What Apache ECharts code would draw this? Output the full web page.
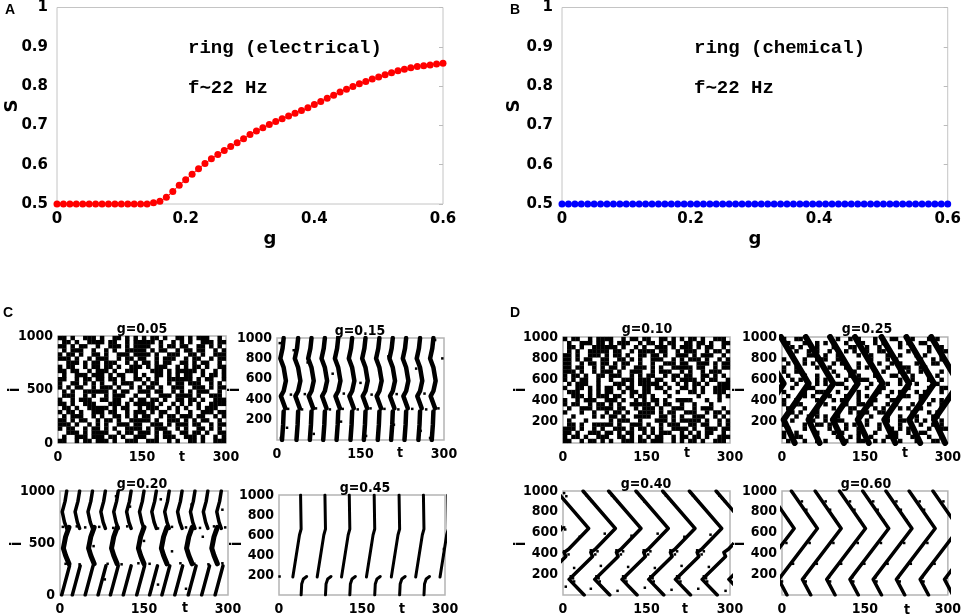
<!DOCTYPE html>
<html>
<head>
<meta charset="utf-8">
<script src="https://cdn.jsdelivr.net/npm/echarts@6/dist/echarts.min.js"></script>
<style>
html,body{margin:0;padding:0;background:#fff}
#main{width:964px;height:616px}
</style>
</head>
<body>
<div id="main"></div>
<script>
// ---- panel A / B : synchrony S against coupling g ----
var gVals = [0,0.01,0.02,0.03,0.04,0.05,0.06,0.07,0.08,0.09,0.1,0.11,0.12,0.13,0.14,0.15,0.16,0.17,0.18,0.19,
  0.2,0.21,0.22,0.23,0.24,0.25,0.26,0.27,0.28,0.29,0.3,0.31,0.32,0.33,0.34,0.35,0.36,0.37,0.38,0.39,
  0.4,0.41,0.42,0.43,0.44,0.45,0.46,0.47,0.48,0.49,0.5,0.51,0.52,0.53,0.54,0.55,0.56,0.57,0.58,0.59,0.6];
var sElectrical = [0.5,0.5,0.5,0.5,0.5,0.5,0.5,0.5,0.5,0.5,0.5,0.5,0.5,0.5,0.5,
  0.503,0.507,0.517,0.532,0.548,0.562,0.576,0.59,0.603,0.615,0.626,0.636,0.646,0.656,0.666,
  0.677,0.686,0.694,0.702,0.71,0.717,0.724,0.731,0.738,0.745,0.753,0.761,0.769,0.777,0.785,
  0.792,0.799,0.806,0.812,0.818,0.823,0.829,0.834,0.839,0.843,0.847,0.85,0.852,0.854,0.856,0.858];
var sChemical = [0.5,0.5,0.5,0.5,0.5,0.5,0.5,0.5,0.5,0.5,0.5,0.5,0.5,0.5,0.5,0.5,0.5,0.5,0.5,0.5,
  0.5,0.5,0.5,0.5,0.5,0.5,0.5,0.5,0.5,0.5,0.5,0.5,0.5,0.5,0.5,0.5,0.5,0.5,0.5,0.5,
  0.5,0.5,0.5,0.5,0.5,0.5,0.5,0.5,0.5,0.5,0.5,0.5,0.5,0.5,0.5,0.5,0.5,0.5,0.5,0.5,0.5];

// ---- raster plots: spike bands as [dt, i] profiles repeated at onset times ----
var g15Lower = [[-3,0],[-1,150],[0,280]];
var g15Upper = [[3,310],[-5,430],[0,480],[4,580],[0,710],[-6,800],[-2,900],[0,1000]];
var g15Onsets = [12,38,62,86,110,135,159,184,208,232,257,281];

var g20Upper = [[0,1000],[-3,900],[-8,800],[-4,700],[0,640]];
var g20UpperOnsets = [12,35,58,81,104,127,150,172,195,218,241,264,288];
var g20Middle = [[10,650],[4,560],[0,450],[4,380],[10,300]];
var g20MiddleOnsets = [6,51,92,140,181,226,271];
var g20Lower = [[0,0],[5,100],[10,200],[14,280]];
var g20LowerOnsets = [3,22,45,68,90,113,137,160,182,205,229,253,277];

var g45Stroke = [[-15,180],[-3,600],[0,660],[-1,1000]];
var g45Onsets = [40,84,128,173,218,262,306];
var g45Hook = [[0,0],[1,110],[4,160],[10,185]];
var g45HookOnsets = [40,84,128,173,218,262];

var g25Zig = [[-50,1000],[0,560],[-45,220],[-25,0]];
var g25Onsets = [3,48,93,137,182,230,275,320,365];

var g40Zig = [[-58,1000],[0,640],[-36,440],[-44,410],[-41,370],[-83,150],[-56,0]];
var g40Onsets = [-2,46,94,140,189,237,285,333,381];

var g60Zig = [[-47,1000],[0,640],[-70,150],[-55,0]];
var g60Onsets = [22,64,107,151,193,235,277,320,364];

// loose spikes [t, i]
var g15Dots = [[20,305],[45,300],[70,310],[95,300],[118,305],[145,300],[168,310],[193,305],[218,300],[243,305],[268,300],[290,310],
  [25,445],[50,450],[120,455],[170,445],[215,450],[265,455],[5,950],[30,880],[55,760],[100,650],[150,560],[200,820],
  [250,700],[297,800],[284,980],[18,120],[66,60],[115,180],[160,40],[210,150],[258,90],[275,20],[7,20]];
var g20Dots = [[5,655],[15,640],[30,660],[45,650],[70,655],[95,645],[120,660],[150,650],[175,640],[200,655],[225,650],[250,645],
  [275,660],[295,650],[10,300],[35,295],[60,305],[85,300],[110,295],[140,305],[160,300],[190,295],[215,305],[240,300],
  [265,295],[290,305],[100,950],[125,850],[180,920],[235,870],[290,820],[60,470],[150,520],[200,420],[255,560],[80,150],
  [175,100],[225,60]];
var g45Dots = [[1,185],[298,460],[297,400]];
var g40Dots = [[38,985],[42,960],[47,930],[52,900],[84,985],[88,955],[93,930],[98,900],[133,985],[137,960],[142,930],[146,900],
  [181,985],[185,955],[190,930],[195,900],[229,985],[233,960],[238,930],[243,900],[277,985],[281,955],[286,930],[291,900],
  [2,980],[6,950],[2,650],[4,630],[50,430],[58,390],[62,420],[96,430],[104,390],[108,420],[145,430],[153,390],[157,420],
  [193,430],[201,390],[205,420],[241,430],[249,390],[253,420],[2,420],[10,390],[14,180],[18,160],[20,130],[60,180],
  [64,160],[66,130],[108,180],[112,160],[114,130],[157,180],[161,160],[163,130],[205,180],[209,160],[211,130],[253,180],
  [257,160],[259,130],[30,560],[75,590],[123,570],[170,590],[218,560],[265,580],[20,260],[68,280],[117,270],[165,260],
  [213,280],[262,270],[5,80],[50,60],[98,40],[147,70],[195,50],[243,60],[292,40]];
var g60Dots = [[12,720],[8,500],[36,900],[44,820],[54,720],[50,500],[20,300],[0,130],
  [79,900],[87,820],[97,720],[93,500],[63,300],[41,170],[43,130],
  [123,900],[131,820],[141,720],[137,500],[107,300],[85,170],[87,130],
  [165,900],[173,820],[183,720],[179,500],[149,300],[127,170],[129,130],
  [207,900],[215,820],[225,720],[221,500],[191,300],[169,170],[171,130],
  [249,900],[257,820],[267,720],[263,500],[233,300],[211,170],[213,130],
  [292,900],[276,300],[254,170],[256,130],[298,170]];

// dense, irregular rasters as rows of cells (top row = neuron 1000)
var g05Cells = [
  "##.#..###. #..##.#.#. #.##.#..## .#.###..#.",
  ".##.#..### #.##..#.## ###.#..#.# .#..###.##",
  "##.#.##..# ..###.#.## ##..#.##.# #..##.#.#.",
  ".#.###..#. .#.#..#### #.#.##..#. ##.##..#.#",
  "#.##.#..## .#..###.## ##.#..###. .##.#..###",
  "###.#..#.# ##..#.##.# #..#.###.. #.##..#.##",
  "..###.#.## .###..#.#. ##.#.##..# #.#.##..#.",
  "#.##..#.## .##.#..### .#.###..#. #.##.#..##",
  "##.##..#.# ##.#..###. ..###.#.## ###.#..#.#",
  ".#..###.## #.#.##..#. #..##.#.#. ##..#.##.#",
  "##..#.##.# #.##.#..## .#.#..#### ##.#.##..#",
  "#..##.#.#. #..#.###.. #.##..#.## .###..#.#.",
  "#.#.##..#. ###.#..#.# .##.#..### ..###.#.##",
  ".#.#..#### ##.#.##..# ##.##..#.# .#.###..#.",
  ".###..#.#. .#.###..#. .#..###.## ##.#..###.",
  "#..#.###.. ##.##..#.# #.##.#..## .##.#..###",
  "##.#..###. ..###.#.## ###.#..#.# .#.#..####",
  ".##.#..### ##.#.##..# .###..#.#. #..#.###..",
  "#.##.#..## #.##..#.## #.#.##..#. .#..###.##",
  ".#.###..#. #..##.#.#. ##..#.##.# ##.##..#.#",
  "##.#.##..# .##.#..### ##.#..###. #.#.##..#.",
  "###.#..#.# .#..###.## ..###.#.## #.##..#.##",
  "#.##..#.## .#.#..#### .#.###..#. #..##.#.#.",
  "..###.#.## ##..#.##.# ##.#.##..# #.##.#..##",
  ".#..###.## #.##.#..## #..#.###.. ###.#..#.#",
  "##..#.##.# ##.#..###. .###..#.#. .##.#..###"
];
var g10Cells = [
  "#.##..#.## ##..#.##.# #..##.#.#. ##.#..###.",
  ".#..###.## .#.###..#. ##.#.##..# #.##.#..##",
  ".##.#..### ###.#..#.# ..###.#.## #.#.##..#.",
  ".#.#..#### #.##..#.## ##.##..#.# ##..#.##.#",
  "##.#..###. #.##.#..## .##.#..### .#.###..#.",
  "##.#.##..# #..##.#.#. .###..#.#. ###.#..#.#",
  "##..#.##.# #.#.##..#. .#..###.## ..###.#.##",
  "##.##..#.# .##.#..### .#.#..#### #.##..#.##",
  "###.#..#.# ##.#..###. .#.###..#. #..#.###..",
  "#.##.#..## .###..#.#. ##..#.##.# #..##.#.#.",
  "#.#.##..#. .#..###.## #.##..#.## ##.#.##..#",
  ".#.###..#. ..###.#.## ###.#..#.# .##.#..###",
  "#..##.#.#. ##.#.##..# #.##.#..## .#.#..####",
  ".###..#.#. ##..#.##.# #...#..#.. ##.#..###.",
  "..###.#.## #.##..#.## .#...#.... ..#....#.#",
  "#..#.###.. ###.#..#.# .##.#..### #...#..#..",
  "#.##..#.## .#.#..#### #.#.##..#. .#...#....",
  ".#..###.## ##.##..#.# ##.#..###. .#.###..#.",
  "#...#..#.. #.##.#..## ##.#.##..# ##..#.##.#",
  "..#....#.# .##.#..### #..##.#.#. .###..#.#.",
  ".#...#.... .#.###..#. ..###.#.## ###.#..#.#",
  ".##.#..### ##.#..###. #..#.###.. ##.##..#.#",
  "###.#..#.# ..###.#.## .#.#..#### .#..###.##",
  "##.#..###. ##.#.##..# .#.###..#. #.#.##..#.",
  "#.##.#..## #..##.#.#. #.##..#.## .##.#..###",
  "##..#.##.# .#..###.## .###..#.#. ##.#..###."
];
var g25Cells = [
  "#..##..... ...#..#.#. ..#...##.. .#...#.#..",
  ".#...#..#. #....#..## ..#.#...#. #..##.....",
  "..#.#...#. ..#...##.. #..#....#. .#...#..#.",
  "...#..#.#. .#...#.#.. #..##..... #....#..##",
  "..#...##.. #..#....#. .#...#..#. ..#.#...#.",
  "#....#..## #..##..... .#...#.#.. ...#..#.#.",
  ".#...#.#.. ..#.#...#. ...#..#.#. ..#...##..",
  "#..#....#. .#...#..#. #....#..## #..##.....",
  "#..##..... ..#...##.. ..#.#...#. #..#....#.",
  ".#...#..#. ...#..#.#. ..#...##.. .#...#.#..",
  "..#.#...#. #....#..## #..#....#. .#...#..#.",
  "...#..#.#. #..##..... .#...#..#. ..#...##..",
  "..#...##.. .#...#.#.. #..##..... #....#..##",
  "#....#..## #..#....#. ...#..#.#. ..#.#...#.",
  ".#...#.#.. .#...#..#. #....#..## #..##.....",
  "#..#....#. ..#.#...#. ..#...##.. ...#..#.#.",
  "#..##..... #....#..## .#...#.#.. .#...#..#.",
  ".#...#..#. ..#...##.. ..#.#...#. #..#....#.",
  "..#.#...#. ...#..#.#. #..##..... .#...#.#..",
  "...#..#.#. #..#....#. .#...#..#. ..#...##..",
  "..#...##.. #..##..... #....#..## ..#.#...#.",
  "#....#..## .#...#.#.. #..#....#. ...#..#.#.",
  ".#...#.#.. .#...#..#. ...#..#.#. #....#..##",
  "#..#....#. ..#.#...#. ..#...##.. #..##.....",
  "#..##..... ...#..#.#. .#...#.#.. .#...#..#.",
  ".#...#..#. #....#..## ..#.#...#. ..#...##.."
];

var sans = "'Liberation Sans',Arial,sans-serif";
var wide = "'DejaVu Sans',sans-serif";
var narrow = "'Liberation Sans Narrow','DejaVu Sans Condensed',sans-serif";
var mono = "'Liberation Mono','DejaVu Sans Mono',monospace";

var chart = echarts.init(document.getElementById('main'));
var grid = [], xAxis = [], yAxis = [], series = [], graphic = [];

function curvePanel(box, values, color) {
  var k = grid.length;
  grid.push({left: box[0], top: box[1], width: box[2], height: box[3], show: true, borderColor: '#c4c4c4', borderWidth: 1});
  xAxis.push({gridIndex: k, type: 'value', min: 0, max: 0.6, interval: 0.2,
    axisLine: {show: false}, axisTick: {show: false}, splitLine: {show: false},
    axisLabel: {color: '#000', fontFamily: wide, fontWeight: 'bold', fontSize: 15, margin: 8,
      formatter: function (v) { return v === 0 ? '0' : v.toFixed(1); }}});
  var xi = xAxis.length - 1;
  yAxis.push({gridIndex: k, type: 'value', min: 0.5, max: 1, interval: 0.1,
    axisLine: {show: false}, axisTick: {show: false}, splitLine: {show: false},
    axisLabel: {color: '#000', fontFamily: wide, fontWeight: 'bold', fontSize: 15, margin: 9,
      formatter: function (v) { return Math.abs(v - 1) < 1e-9 ? '1' : v.toFixed(1); }}});
  var yi = yAxis.length - 1;
  yAxis.push({gridIndex: k, type: 'value', position: 'right', min: 0.5, max: 1, interval: 0.1,
    axisLine: {show: false}, axisLabel: {show: false}, splitLine: {show: false},
    axisTick: {show: true, inside: true, length: 4, lineStyle: {color: '#bbb'}}});
  series.push({type: 'line', xAxisIndex: xi, yAxisIndex: yi,
    data: gVals.map(function (g, i) { return [g, values[i]]; }),
    symbol: 'circle', symbolSize: 7, itemStyle: {color: color, opacity: 1},
    lineStyle: {color: color, width: 1}, silent: true, animation: false});
}

function rasterPanel(box, yStep) {
  var k = grid.length;
  grid.push({left: box[0], top: box[1], width: box[2], height: box[3], show: true, borderColor: '#b4b4b4', borderWidth: 1.5});
  xAxis.push({gridIndex: k, type: 'value', min: 0, max: 300, interval: 150,
    axisLine: {show: false}, axisTick: {show: false}, splitLine: {show: false},
    axisLabel: {color: '#000', fontFamily: narrow, fontWeight: 'bold', fontSize: 14, margin: 7}});
  yAxis.push({gridIndex: k, type: 'value', min: 0, max: 1000, interval: yStep,
    axisLine: {show: false}, axisTick: {show: false}, splitLine: {show: false},
    axisLabel: {color: '#000', fontFamily: narrow, fontWeight: 'bold', fontSize: 14, margin: 5,
      formatter: function (v) { return (yStep === 200 && v === 0) ? '' : String(v); }}});
  return {x: xAxis.length - 1, y: yAxis.length - 1, box: box};
}

function addBands(p, profile, onsets, width) {
  onsets.forEach(function (T) {
    series.push({type: 'line', xAxisIndex: p.x, yAxisIndex: p.y,
      data: profile.map(function (q) { return [T + q[0], q[1]]; }),
      symbol: 'none', clip: true, silent: true, animation: false,
      lineStyle: {color: '#000', width: width, opacity: 1, cap: 'round', join: 'round'}});
  });
}

function addDots(p, pts, size) {
  series.push({type: 'scatter', xAxisIndex: p.x, yAxisIndex: p.y, data: pts,
    symbol: 'rect', symbolSize: size, itemStyle: {color: '#000', opacity: 1},
    silent: true, animation: false});
}

function addCells(p, rows) {
  var pts = [], n = rows.length, cols = 0;
  rows.forEach(function (r, ri) {
    var s = r.replace(/ /g, '');
    cols = s.length;
    for (var c = 0; c < s.length; c++) {
      if (s.charAt(c) === '#') pts.push([(c + 0.5) * 300 / s.length, 1000 - (ri + 0.5) * 1000 / n]);
    }
  });
  addDots(p, pts, [p.box[2] / cols + 0.3, p.box[3] / n + 0.3]);
}

function text(x, y, str, font, rot, align) {
  graphic.push({type: 'text', x: x, y: y, rotation: rot || 0, silent: true,
    style: {text: str, font: font, fill: '#000', align: align || 'center', textAlign: align || 'center',
      verticalAlign: 'middle', textVerticalAlign: 'middle'}});
}

// top row
curvePanel([57, 6, 386, 198], sElectrical, '#ff0000');
curvePanel([562, 6, 387, 198], sChemical, '#0000ff');

// C
var c1 = rasterPanel([58, 336, 168, 107], 500);
addCells(c1, g05Cells);
var c2 = rasterPanel([277, 338, 167, 102], 200);
addBands(c2, g15Lower, g15Onsets, 4.5);
addBands(c2, g15Upper, g15Onsets, 4.5);
addDots(c2, g15Dots, 2.5);
var c3 = rasterPanel([60, 491, 168, 107], 500);
addBands(c3, g20Upper, g20UpperOnsets, 3.5);
addBands(c3, g20Middle, g20MiddleOnsets, 5);
addBands(c3, g20Lower, g20LowerOnsets, 3.5);
addDots(c3, g20Dots, 2.5);
var c4 = rasterPanel([279, 495, 166, 103], 200);
addBands(c4, g45Stroke, g45Onsets, 3);
addBands(c4, g45Hook, g45HookOnsets, 3);
addDots(c4, g45Dots, 2.5);

// D
var d1 = rasterPanel([563, 337, 167, 106], 200);
addCells(d1, g10Cells);
var d2 = rasterPanel([782, 337, 168, 106], 200);
addCells(d2, g25Cells);
addBands(d2, g25Zig, g25Onsets, 6);
var d3 = rasterPanel([563, 491, 167, 107], 200);
addBands(d3, g40Zig, g40Onsets, 3.5);
addDots(d3, g40Dots, 2.5);
var d4 = rasterPanel([782, 491, 168, 107], 200);
addBands(d4, g60Zig, g60Onsets, 3.5);
addDots(d4, g60Dots, 2.5);

// labels
var panelFont = 'bold 14px ' + sans;
text(10, 10, 'A', panelFont);
text(515, 10, 'B', panelFont);
text(8, 313, 'C', panelFont);
text(515, 313, 'D', panelFont);

var axisNameFont = 'bold 18px ' + wide;
text(270, 239, 'g', axisNameFont);
text(755, 239, 'g', axisNameFont);
text(12, 106, 'S', axisNameFont, Math.PI / 2);
text(514, 106, 'S', axisNameFont, Math.PI / 2);

var noteFont = 'bold 19px ' + mono;
text(188, 48, 'ring (electrical)', noteFont, 0, 'left');
text(188, 88, 'f\u223C22 Hz', noteFont, 0, 'left');
text(694, 48, 'ring (chemical)', noteFont, 0, 'left');
text(694, 88, 'f\u223C22 Hz', noteFont, 0, 'left');

var rFont = 'bold 14px ' + narrow;
[[142, 329, 'g=0.05'], [360, 331, 'g=0.15'], [142, 484, 'g=0.20'], [365, 488, 'g=0.45'],
 [647, 329, 'g=0.10'], [867, 329, 'g=0.25'], [646, 484, 'g=0.40'], [866, 484, 'g=0.60']].forEach(function (a) {
  text(a[0], a[1], a[2], rFont);
});
[[182, 457], [400, 453], [185, 608], [402, 609], [687, 453], [905, 453], [685, 609], [907, 610]].forEach(function (a) {
  text(a[0], a[1], 't', rFont);
});
[[15, 390], [235, 390], [17, 544], [237, 544], [521, 390], [740, 390], [521, 544], [740, 544]].forEach(function (a) {
  text(a[0], a[1], 'i', 'bold 15px ' + narrow, Math.PI / 2);
});

chart.setOption({
  animation: false,
  backgroundColor: '#fff',
  grid: grid,
  xAxis: xAxis,
  yAxis: yAxis,
  series: series,
  graphic: graphic
});
</script>
</body>
</html>
